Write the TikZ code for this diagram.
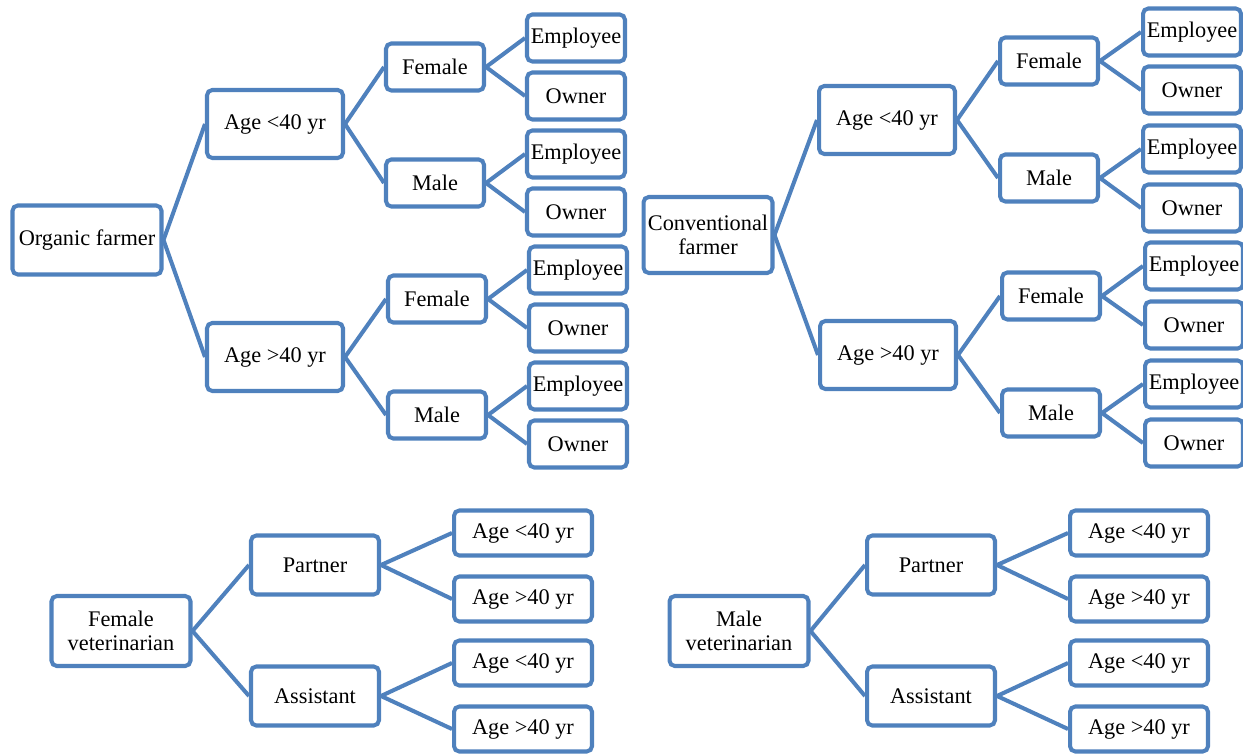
\documentclass[tikz,border=0pt]{standalone}
\usepackage{fontspec}
\setmainfont{Liberation Serif}
\definecolor{boxblue}{HTML}{4F81BD}

\begin{document}
\begin{tikzpicture}[x=0.02cm,y=-0.02cm,
  box/.style={draw=boxblue,line width=2.3pt,rounded corners=3pt,fill=white,align=center,inner sep=1pt,font=\fontsize{12.7}{14}\selectfont},
  farmbox/.style={box,minimum width=2.98cm,minimum height=1.38cm},
  agebox/.style={box,minimum width=2.72cm,minimum height=1.36cm},
  sexbox/.style={box,minimum width=1.96cm,minimum height=0.94cm},
  vetbox/.style={box,minimum width=2.78cm,minimum height=1.40cm},
  rolebox/.style={box,minimum width=2.56cm,minimum height=1.18cm},
  leafbox/.style={box,minimum width=2.76cm,minimum height=0.90cm},
  link/.style={draw=boxblue,line width=2.3pt}]
\useasboundingbox (0,0) rectangle (1243,756);

% First tree: organic farmer
\node[farmbox] (O) at (87,240) {Organic farmer};
\node[agebox] (OY) at (275,124) {Age <40 yr};
\node[agebox] (OA) at (275,357) {Age >40 yr};
\node[sexbox] (OYF) at (435,67) {Female};
\node[sexbox] (OYM) at (435,183) {Male};
\node[sexbox] (OAF) at (437,299) {Female};
\node[sexbox] (OAM) at (437,415) {Male};
\node[sexbox] (OYFe) at (576,38) {Employee};
\node[sexbox] (OYFo) at (576,96) {Owner};
\node[sexbox] (OYMe) at (576,154) {Employee};
\node[sexbox] (OYMo) at (576,212) {Owner};
\node[sexbox] (OAFe) at (578,270) {Employee};
\node[sexbox] (OAFo) at (578,328) {Owner};
\node[sexbox] (OAMe) at (578,386) {Employee};
\node[sexbox] (OAMo) at (578,444) {Owner};
\draw[link] (O.east) -- (OY.west);
\draw[link] (O.east) -- (OA.west);
\draw[link] (OY.east) -- (OYF.west);
\draw[link] (OY.east) -- (OYM.west);
\draw[link] (OA.east) -- (OAF.west);
\draw[link] (OA.east) -- (OAM.west);
\draw[link] (OYF.east) -- (OYFe.west);
\draw[link] (OYF.east) -- (OYFo.west);
\draw[link] (OYM.east) -- (OYMe.west);
\draw[link] (OYM.east) -- (OYMo.west);
\draw[link] (OAF.east) -- (OAFe.west);
\draw[link] (OAF.east) -- (OAFo.west);
\draw[link] (OAM.east) -- (OAMe.west);
\draw[link] (OAM.east) -- (OAMo.west);

% Second tree: conventional farmer
\node[farmbox,minimum width=2.58cm,minimum height=1.52cm] (C) at (708,235) {Conventional\\farmer};
\node[agebox] (CY) at (887,120) {Age <40 yr};
\node[agebox] (CA) at (888,355) {Age >40 yr};
\node[sexbox] (CYF) at (1049,61) {Female};
\node[sexbox] (CYM) at (1049,178) {Male};
\node[sexbox] (CAF) at (1051,296) {Female};
\node[sexbox] (CAM) at (1051,413) {Male};
\node[sexbox] (CYFe) at (1192,32) {Employee};
\node[sexbox] (CYFo) at (1192,90) {Owner};
\node[sexbox] (CYMe) at (1192,149) {Employee};
\node[sexbox] (CYMo) at (1192,208) {Owner};
\node[sexbox] (CAFe) at (1194,266) {Employee};
\node[sexbox] (CAFo) at (1194,325) {Owner};
\node[sexbox] (CAMe) at (1194,384) {Employee};
\node[sexbox] (CAMo) at (1194,443) {Owner};
\draw[link] (C.east) -- (CY.west);
\draw[link] (C.east) -- (CA.west);
\draw[link] (CY.east) -- (CYF.west);
\draw[link] (CY.east) -- (CYM.west);
\draw[link] (CA.east) -- (CAF.west);
\draw[link] (CA.east) -- (CAM.west);
\draw[link] (CYF.east) -- (CYFe.west);
\draw[link] (CYF.east) -- (CYFo.west);
\draw[link] (CYM.east) -- (CYMe.west);
\draw[link] (CYM.east) -- (CYMo.west);
\draw[link] (CAF.east) -- (CAFe.west);
\draw[link] (CAF.east) -- (CAFo.west);
\draw[link] (CAM.east) -- (CAMe.west);
\draw[link] (CAM.east) -- (CAMo.west);

% Third tree: female veterinarian
\node[vetbox] (F) at (121,631) {Female\\veterinarian};
\node[rolebox] (FP) at (315,565) {Partner};
\node[rolebox] (FA) at (315,696) {Assistant};
\node[leafbox] (FPy) at (523,533) {Age <40 yr};
\node[leafbox] (FPo) at (523,599) {Age >40 yr};
\node[leafbox] (FAy) at (523,663) {Age <40 yr};
\node[leafbox] (FAo) at (523,729) {Age >40 yr};
\draw[link] (F.east) -- (FP.west);
\draw[link] (F.east) -- (FA.west);
\draw[link] (FP.east) -- (FPy.west);
\draw[link] (FP.east) -- (FPo.west);
\draw[link] (FA.east) -- (FAy.west);
\draw[link] (FA.east) -- (FAo.west);

% Fourth tree: male veterinarian
\node[vetbox] (M) at (739,631) {Male\\veterinarian};
\node[rolebox] (MP) at (931,565) {Partner};
\node[rolebox] (MA) at (931,696) {Assistant};
\node[leafbox] (MPy) at (1139,533) {Age <40 yr};
\node[leafbox] (MPo) at (1139,599) {Age >40 yr};
\node[leafbox] (MAy) at (1139,663) {Age <40 yr};
\node[leafbox] (MAo) at (1139,729) {Age >40 yr};
\draw[link] (M.east) -- (MP.west);
\draw[link] (M.east) -- (MA.west);
\draw[link] (MP.east) -- (MPy.west);
\draw[link] (MP.east) -- (MPo.west);
\draw[link] (MA.east) -- (MAy.west);
\draw[link] (MA.east) -- (MAo.west);
\end{tikzpicture}
\end{document}
